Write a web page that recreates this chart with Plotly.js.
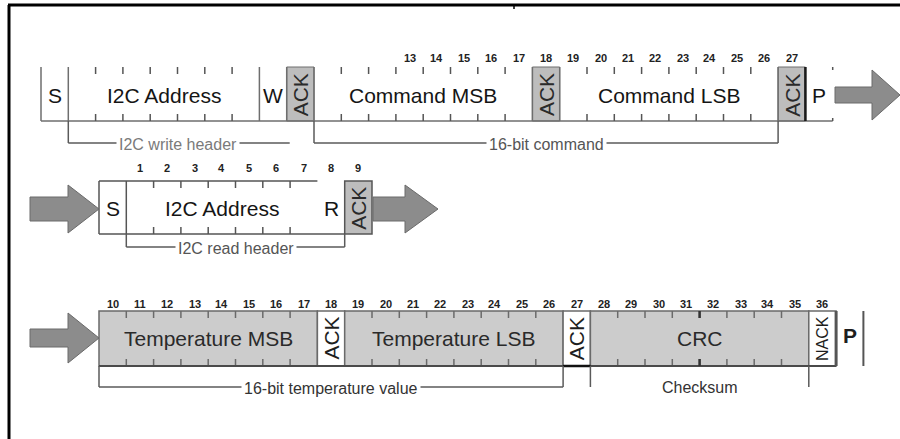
<!DOCTYPE html>
<html><head><meta charset="utf-8">
<script src="https://cdn.plot.ly/plotly-3.0.1.min.js"></script>
<style>html,body{margin:0;padding:0;background:#fff}#chart{width:900px;height:439px}</style>
</head><body><div id="chart"></div>
<script>
// ---------------- data ----------------
const writeLabels  = ["S","I2C Address","W","ACK","Command MSB","ACK","Command LSB","ACK","P"];
const writeStart   = [0,1,8,9,10,18,19,27,28];
const writeBits    = [1,7,1,1,8,1,8,1,1];
const writeNumbers = [13,14,15,16,17,18,19,20,21,22,23,24,25,26,27];

const readLabels   = ["S","I2C Address","R","ACK"];
const readStart    = [0,1,8,9];
const readBits     = [1,7,1,1];
const readNumbers  = [1,2,3,4,5,6,7,8,9];

const dataLabels   = ["Temperature MSB","ACK","Temperature LSB","ACK","CRC","NACK","P"];
const dataStart    = [10,18,19,27,28,36,37];
const dataBits     = [8,1,8,1,8,1,1];
const dataNumbers  = [10,11,12,13,14,15,16,17,18,19,20,21,22,23,24,25,26,27,28,29,30,31,32,33,34,35,36];

const bracketLabels = ["I2C write header","16-bit command","I2C read header","16-bit temperature value","Checksum"];
const bracketRow    = ["write","write","read","data","data"];
const bracketFrom   = [1,10,1,10,28];
const bracketTo     = [9,27,9,27,36];

// ---------------- layout helpers ----------------
const FONT = "Liberation Sans, Arial, sans-serif";
const W = 27.3;
const rows = {
  write: {x0: 41,        top: 67,  bottom: 121, numY: 58,  brY: 143},
  read:  {x0: 99,        top: 181, bottom: 234, numY: 168, brY: 247},
  data:  {x0: 99 - 10*W, top: 311, bottom: 366, numY: 304, brY: 387}
};
const X = (r, b) => r.x0 + b * W;
const shapes = [], ann = [];
function line(x0, y0, x1, y1, color, width) {
  shapes.push({type:'line', xref:'x', yref:'y', x0, y0, x1, y1, line:{color, width}});
}
function rect(x0, y0, x1, y1, fill, color, width) {
  shapes.push({type:'rect', xref:'x', yref:'y', x0, y0, x1, y1, fillcolor: fill, line:{color, width}});
}
function path(d, fill, color, width) {
  shapes.push({type:'path', xref:'x', yref:'y', path: d, fillcolor: fill, line:{color, width}});
}
function text(x, y, t, size, color, extra, weight) {
  ann.push(Object.assign({x, y, xref:'x', yref:'y', text: t, showarrow:false,
    font:{family: FONT, size, color, weight: weight || 'normal'}, xanchor:'center', yanchor:'middle'}, extra || {}));
}
function ticks(r, start, bits, color, w) {
  for (let k = 1; k < bits; k++) {
    const x = X(r, start + k);
    line(x, r.top, x, r.top + 7, color, w);
    line(x, r.bottom - 7, x, r.bottom, color, w);
  }
}
function arrow(xs, xb, xt, yc, bh, hh) {
  const d = `M${xs},${yc-bh} L${xb},${yc-bh} L${xb},${yc-hh} L${xt},${yc} L${xb},${yc+hh} L${xb},${yc+bh} L${xs},${yc+bh} Z`;
  path(d, '#8c8c8c', '#6a6a6a', 1);
}

// ---------------- frame ----------------
line(8, 5, 900, 5, '#000', 3);
line(9, 5, 9, 439, '#000', 3);
line(514, 5, 514, 9, '#000', 1.5);

// ---------------- row 1 : write ----------------
const r1 = rows.write;
writeLabels.forEach((lab, i) => {
  if (lab === 'ACK') rect(X(r1, writeStart[i]), r1.top, X(r1, writeStart[i] + writeBits[i]), r1.bottom, '#bdbdbd', '#6e6e6e', 1);
});
line(X(r1, 0), r1.bottom, X(r1, 29), r1.bottom, '#6e6e6e', 1.5);
writeLabels.forEach((lab, i) => {
  const a = X(r1, writeStart[i]);
  line(a, r1.top, a, r1.bottom, '#6e6e6e', 1.5);
  if (writeBits[i] > 1) ticks(r1, writeStart[i], writeBits[i], '#555', 1.5);
});
line(X(r1, 28), r1.top, X(r1, 28), r1.bottom, '#1a1a1a', 2.5);
line(X(r1, 29), r1.top, X(r1, 29), r1.top + 3, '#555', 1.5);
line(X(r1, 29), r1.bottom - 3, X(r1, 29), r1.bottom, '#555', 1.5);
writeLabels.forEach((lab, i) => {
  const cx = X(r1, writeStart[i] + writeBits[i] / 2), cy = (r1.top + r1.bottom) / 2 + 1;
  if (lab === 'ACK') text(cx, cy, lab, 21, '#2a2a2a', {textangle: -90});
  else text(cx, cy, lab, 21, '#151515');
});
writeNumbers.forEach(n => text(X(r1, n + 0.5), r1.numY, String(n), 11, '#222', null, 'bold'));
arrow(835, 872, 900, 95, 8, 25);

// ---------------- row 2 : read ----------------
const r2 = rows.read;
readLabels.forEach((lab, i) => {
  if (lab === 'ACK') rect(X(r2, readStart[i]), r2.top, X(r2, readStart[i] + readBits[i]), r2.bottom, '#bdbdbd', '#555', 1.5);
});
line(X(r2, readStart[0]), r2.top, X(r2, readStart[2]), r2.top, '#555', 1.5);
line(X(r2, readStart[0]), r2.bottom, X(r2, readStart[3]), r2.bottom, '#555', 1.5);
line(X(r2, readStart[0]), r2.top, X(r2, readStart[0]), r2.bottom, '#555', 1.5);
line(X(r2, readStart[1]), r2.top, X(r2, readStart[1]), r2.bottom, '#555', 1.5);
ticks(r2, readStart[1], readBits[1], '#555', 1.5);
readLabels.forEach((lab, i) => {
  const cx = X(r2, readStart[i] + readBits[i] / 2), cy = (r2.top + r2.bottom) / 2 + 1;
  if (lab === 'ACK') text(cx, cy, lab, 21, '#2a2a2a', {textangle: -90});
  else text(cx, cy, lab, 21, '#151515');
});
readNumbers.forEach(n => text(X(r2, n + 0.5), r2.numY, String(n), 11, '#222', null, 'bold'));
arrow(30, 68, 99, 209, 12, 24);
arrow(373, 405, 438, 209, 12, 24);

// ---------------- row 3 : data ----------------
const r3 = rows.data;
dataLabels.forEach((lab, i) => {
  if (lab === 'P') return;
  const white = (lab === 'ACK' || lab === 'NACK');
  rect(X(r3, dataStart[i]), r3.top, X(r3, dataStart[i] + dataBits[i]), r3.bottom, white ? '#ffffff' : '#cccccc', '#6a6a6a', 1.5);
  if (dataBits[i] > 1) ticks(r3, dataStart[i], dataBits[i], '#6a6a6a', 1.5);
});
line(X(r3, 10), r3.bottom, X(r3, 37), r3.bottom, '#4a4a4a', 2);
line(X(r3, 27), r3.bottom, X(r3, 28), r3.bottom, '#111', 2.5);
line(X(r3, 32), r3.top, X(r3, 32), r3.top + 7, '#333', 2.5);
line(X(r3, 32), r3.bottom - 7, X(r3, 32), r3.bottom, '#333', 2.5);
line(X(r3, 37), r3.top, X(r3, 37), r3.bottom, '#555', 3);
line(X(r3, 38), r3.top, X(r3, 38), r3.bottom, '#555', 2);
dataLabels.forEach((lab, i) => {
  const cx = X(r3, dataStart[i] + dataBits[i] / 2), cy = (r3.top + r3.bottom) / 2;
  if (lab === 'ACK') text(cx, cy, lab, 21, '#1e1e1e', {textangle: -90});
  else if (lab === 'NACK') text(cx, cy, lab, 16, '#1e1e1e', {textangle: -90});
  else if (lab === 'P') text(cx, cy - 3, lab, 21, '#1e1e1e', null, 'bold');
  else text(cx, cy, lab, 21, '#2a2a2a');
});
dataNumbers.forEach(n => text(X(r3, n + 0.5), r3.numY, String(n), 11, '#222', null, 'bold'));
arrow(30, 68, 99, 338, 9, 25);

// ---------------- brackets ----------------
const brColor = ['#7a7a7a', '#555', '#555', '#333', '#333'];
bracketLabels.forEach((lab, i) => {
  const r = rows[bracketRow[i]];
  const a = X(r, bracketFrom[i]), b = X(r, bracketTo[i]);
  const col = '#5a5a5a';
  line(a, r.bottom, a, r.brY, col, 1.5);
  if (i !== 4) line(a, r.brY, b + (i === 0 ? 3 : 0), r.brY, col, 1.5);
  if (i !== 0) line(b, r.bottom, b, r.brY, col, 1.5);
  text((a + b) / 2, r.brY + (i === 4 ? 0 : 1), lab, 16, brColor[i], {bgcolor: '#ffffff', borderpad: 2});
});

Plotly.newPlot('chart', [{
  x: [0, 900], y: [0, 439], type: 'scatter', mode: 'markers',
  marker: {opacity: 0}, hoverinfo: 'skip', showlegend: false
}], {
  width: 900, height: 439,
  margin: {l: 0, r: 0, t: 0, b: 0, pad: 0},
  paper_bgcolor: '#ffffff', plot_bgcolor: '#ffffff',
  xaxis: {range: [0, 900], visible: false, fixedrange: true},
  yaxis: {range: [439, 0], visible: false, fixedrange: true},
  shapes: shapes, annotations: ann, showlegend: false
}, {staticPlot: true, displayModeBar: false});
</script>
</body></html>
